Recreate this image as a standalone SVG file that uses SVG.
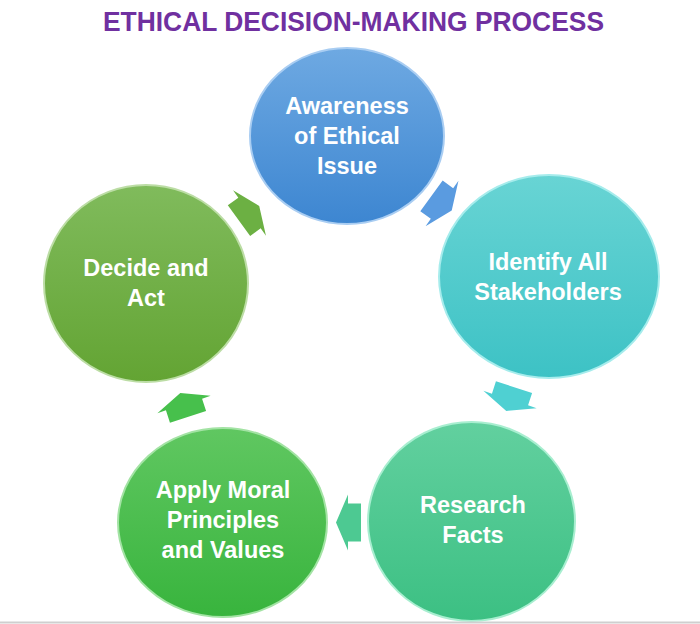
<svg xmlns="http://www.w3.org/2000/svg" xmlns:xlink="http://www.w3.org/1999/xlink" width="700" height="624" viewBox="0 0 700 624">
<style>
.lbl{font-family:"Liberation Sans",Arial,sans-serif;font-weight:bold;font-size:23.5px;fill:#ffffff;text-anchor:middle}
.title{font-family:"Liberation Sans",Arial,sans-serif;font-weight:bold;font-size:28px;fill:#7030A0;text-anchor:middle}
.node{stroke-width:2}
</style>
<defs>
<linearGradient id="gBlue" x1="0" y1="0" x2="0" y2="1"><stop offset="0" stop-color="#6EA9E2"/><stop offset="1" stop-color="#3D86D1"/></linearGradient>
<linearGradient id="gCyan" x1="0" y1="0" x2="0" y2="1"><stop offset="0" stop-color="#68D4D4"/><stop offset="1" stop-color="#3DC2C5"/></linearGradient>
<linearGradient id="gTeal" x1="0" y1="0" x2="0" y2="1"><stop offset="0" stop-color="#62D09F"/><stop offset="1" stop-color="#3CC083"/></linearGradient>
<linearGradient id="gGreen" x1="0" y1="0" x2="0" y2="1"><stop offset="0" stop-color="#60C761"/><stop offset="1" stop-color="#38B43D"/></linearGradient>
<linearGradient id="gOlive" x1="0" y1="0" x2="0" y2="1"><stop offset="0" stop-color="#80BB5C"/><stop offset="1" stop-color="#63A433"/></linearGradient>
<path id="arr" d="M-13,-19 H0 V-28 L12,0 L0,28 V19 H-13 Z"/>
</defs>
<rect width="700" height="624" fill="#ffffff"/>
<text class="title" x="353.5" y="31" textLength="501" lengthAdjust="spacingAndGlyphs">ETHICAL DECISION-MAKING PROCESS</text>
<g id="connectors">
<use xlink:href="#arr" href="#arr" fill="#6CB043" transform="translate(249.5,213) rotate(-36)"/>
<use xlink:href="#arr" href="#arr" fill="#5A9BE0" transform="translate(442,203.5) rotate(36)"/>
<use xlink:href="#arr" href="#arr" fill="#4FD0D2" transform="translate(510,399.5) rotate(108)"/>
<use xlink:href="#arr" href="#arr" fill="#4DC992" transform="translate(348,522.5) rotate(180)"/>
<use xlink:href="#arr" href="#arr" fill="#47C04C" transform="translate(184,404.5) rotate(252)"/>
</g>
<g id="node-awareness">
<ellipse class="node" cx="347" cy="136" rx="97" ry="88" fill="url(#gBlue)" stroke="#A9CDF2"/>
<text class="lbl" x="347" y="114">Awareness</text>
<text class="lbl" x="347" y="144">of Ethical</text>
<text class="lbl" x="347" y="174">Issue</text>
</g>
<g id="node-identify">
<ellipse class="node" cx="549" cy="276.5" rx="110" ry="101.5" fill="url(#gCyan)" stroke="#A6ECEC"/>
<text class="lbl" x="548" y="270">Identify All</text>
<text class="lbl" x="548" y="300">Stakeholders</text>
</g>
<g id="node-research">
<ellipse class="node" cx="471.5" cy="521.5" rx="103.5" ry="99.5" fill="url(#gTeal)" stroke="#A8EED0"/>
<text class="lbl" x="473" y="513">Research</text>
<text class="lbl" x="473" y="543">Facts</text>
</g>
<g id="node-apply">
<ellipse class="node" cx="222.5" cy="522.5" rx="104.5" ry="94.5" fill="url(#gGreen)" stroke="#A3E3A4"/>
<text class="lbl" x="223" y="498">Apply Moral</text>
<text class="lbl" x="223" y="528">Principles</text>
<text class="lbl" x="223" y="558">and Values</text>
</g>
<g id="node-decide">
<ellipse class="node" cx="146" cy="283.5" rx="102" ry="98.5" fill="url(#gOlive)" stroke="#BCDDA5"/>
<text class="lbl" x="146" y="276">Decide and</text>
<text class="lbl" x="146" y="306">Act</text>
</g>
<line x1="0" y1="622.5" x2="700" y2="622.5" stroke="#CFCFCF" stroke-width="2"/>
</svg>
